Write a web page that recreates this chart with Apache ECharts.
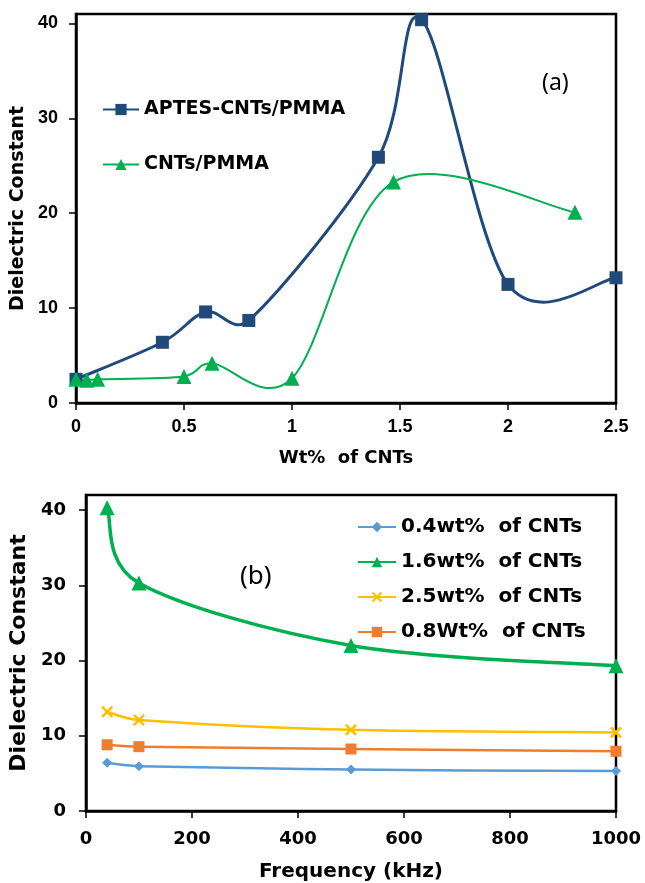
<!DOCTYPE html>
<html>
<head>
<meta charset="utf-8">
<script src="https://cdn.jsdelivr.net/npm/echarts@6/dist/echarts.min.js"></script>
<style>
html, body { margin: 0; padding: 0; background: #fff; }
#main { width: 645px; height: 883px; }
</style>
</head>
<body>
<div id="main"></div>
<script>
// (a) dielectric constant vs wt% of CNTs
var wtAptes = [0, 0.4, 0.6, 0.8, 1.4, 1.6, 2.0, 2.5];
var dcAptes = [2.5, 6.4, 9.6, 8.7, 25.9, 40.4, 12.5, 13.2];
var wtCnt = [0, 0.05, 0.1, 0.5, 0.63, 1.0, 1.47, 2.31];
var dcCnt = [2.5, 2.4, 2.5, 2.8, 4.2, 2.6, 23.3, 20.1];
var wtTicks = [0, 0.5, 1, 1.5, 2, 2.5];
var dcTicks = [0, 10, 20, 30, 40];

// (b) dielectric constant vs frequency
var freq = [40, 100, 500, 1000];
var dc04 = [6.4, 5.95, 5.5, 5.3];
var dc16 = [40.3, 30.3, 22.0, 19.3];
var dc25 = [13.2, 12.1, 10.8, 10.45];
var dc08 = [8.8, 8.55, 8.24, 7.94];
var freqTicks = [0, 200, 400, 600, 800, 1000];

function pairs(xs, ys) {
	var out = [];
	for (var i = 0; i < xs.length; i++) out.push([xs[i], ys[i]]);
	return out;
}

// tangent handle, kept to half of the segment length
function handle(a, b, segLen) {
	var dx = (b[0] - a[0]) / 6, dy = (b[1] - a[1]) / 6;
	var len = Math.sqrt(dx * dx + dy * dy);
	var cap = segLen * 0.5;
	if (len > cap && len > 0) {
		dx = dx * cap / len;
		dy = dy * cap / len;
	}
	return [dx, dy];
}

// excel-like smoothed line through the data, positions from api.coord
function smoothCurve(gi, xs, ys, color, width) {
	return {
		type : 'custom',
		xAxisIndex : gi, yAxisIndex : gi,
		silent : true,
		clip : false,
		z : 1,
		encode : { x : 0, y : 1 },
		data : pairs(xs, ys),
		renderItem : function(params, api) {
			if (params.dataIndex !== 0) return;
			var pts = [];
			for (var i = 0; i < xs.length; i++) pts.push(api.coord([xs[i], ys[i]]));
			var kids = [];
			for (var i = 0; i < pts.length - 1; i++) {
				var p0 = pts[i - 1] || pts[i], p1 = pts[i], p2 = pts[i + 1], p3 = pts[i + 2] || pts[i + 1];
				var seg = Math.sqrt(Math.pow(p2[0] - p1[0], 2) + Math.pow(p2[1] - p1[1], 2));
				var h1 = handle(p0, p2, seg), h2 = handle(p1, p3, seg);
				kids.push({
					type : 'bezierCurve',
					shape : {
						x1 : p1[0], y1 : p1[1],
						cpx1 : p1[0] + h1[0], cpy1 : p1[1] + h1[1],
						cpx2 : p2[0] - h2[0], cpy2 : p2[1] - h2[1],
						x2 : p2[0], y2 : p2[1]
					},
					style : { stroke : color, lineWidth : width, fill : null }
				});
			}
			return { type : 'group', children : kids };
		}
	};
}

// markers + legend entry
function marks(gi, name, xs, ys, symbol, size, color, width) {
	return {
		name : name,
		type : 'line',
		xAxisIndex : gi, yAxisIndex : gi,
		clip : false,
		z : 3,
		symbol : symbol,
		symbolSize : size,
		color : color,
		itemStyle : { color : color, opacity : 1 },
		lineStyle : { width : width, color : color, opacity : 0 },
		data : pairs(xs, ys)
	};
}

var xCross = 'path://M0,1.5L1.5,0L5,3.5L8.5,0L10,1.5L6.5,5L10,8.5L8.5,10L5,6.5L1.5,10L0,8.5L3.5,5Z';
var bold = 'DejaVu Sans';

function axis(gridIndex, min, max, interval, ticks, name, nameGap, labelFont, labelMargin, nameSize) {
	return {
		type : 'value',
		gridIndex : gridIndex,
		min : min,
		max : max,
		interval : interval,
		name : name,
		nameLocation : 'middle',
		nameGap : nameGap,
		nameTextStyle : { fontFamily : bold, fontWeight : 'bold', fontSize : nameSize, color : '#000' },
		axisLine : { show : true, lineStyle : { color : '#000', width : 2.5 } },
		axisTick : { show : true, length : 7, lineStyle : { color : '#000', width : 1.5 }, customValues : ticks },
		axisLabel : { customValues : ticks, margin : labelMargin, color : '#000', fontWeight : 'bold',
			fontFamily : labelFont.family, fontSize : labelFont.size,
			formatter : function(v) { return String(v); } },
		splitLine : { show : false }
	};
}

var myChart = echarts.init(document.getElementById('main'));
var option = {
	backgroundColor : '#ffffff',
	animation : false,
	grid : [ {
		left : 76, right : 29, top : 14, height : 389,
		show : true, borderColor : '#000', borderWidth : 2.5
	}, {
		left : 82, right : 29, top : 495, height : 317,
		show : true, borderColor : '#000', borderWidth : 2.5
	} ],
	xAxis : [
		axis(0, 0, 2.5, 0.5, wtTicks, 'Wt%  of CNTs', 46, { family : 'Liberation Sans', size : 18 }, 15, 18),
		axis(1, 0, 1000, 200, freqTicks, 'Frequency (kHz)', 51, { family : bold, size : 18 }, 19, 20)
	],
	yAxis : [
		axis(0, 0, 41, 10, dcTicks, 'Dielectric Constant', 46, { family : 'Liberation Sans', size : 18 }, 18, 19),
		axis(1, 0, 42, 10, dcTicks, 'Dielectric Constant', 52, { family : bold, size : 18 }, 20, 22)
	],
	legend : [ {
		orient : 'vertical',
		left : 97,
		top : 95,
		itemWidth : 36,
		itemHeight : 14,
		itemGap : 36,
		lineStyle : { opacity : 1 },
		textStyle : { fontFamily : bold, fontWeight : 'bold', fontSize : 19, color : '#000' },
		data : [ 'APTES-CNTs/PMMA', 'CNTs/PMMA' ]
	}, {
		orient : 'vertical',
		left : 352,
		top : 512,
		itemWidth : 38,
		itemHeight : 13,
		itemGap : 15,
		lineStyle : { opacity : 1 },
		textStyle : { fontFamily : bold, fontWeight : 'bold', fontSize : 20, color : '#000' },
		data : [ '0.4wt%  of CNTs', '1.6wt%  of CNTs', '2.5wt%  of CNTs', '0.8Wt%  of CNTs' ]
	} ],
	graphic : [ {
		type : 'text', left : 542, top : 72,
		style : { text : '(a)', fontFamily : 'Noto Sans', fontSize : 23, fill : '#000' }
	}, {
		type : 'text', left : 240, top : 564,
		style : { text : '(b)', fontFamily : 'Noto Sans', fontSize : 26, fill : '#000' }
	} ],
	series : [
		smoothCurve(0, wtAptes, dcAptes, '#1F4A7A', 3),
		smoothCurve(0, wtCnt, dcCnt, '#00B050', 2),
		smoothCurve(1, freq, dc04, '#5B9BD5', 2.5),
		smoothCurve(1, freq, dc16, '#00B050', 3.5),
		smoothCurve(1, freq, dc25, '#FFC000', 2.5),
		smoothCurve(1, freq, dc08, '#ED7D31', 2.5),
		marks(0, 'APTES-CNTs/PMMA', wtAptes, dcAptes, 'rect', 13, '#1F4A7A', 3),
		marks(0, 'CNTs/PMMA', wtCnt, dcCnt, 'triangle', 15, '#00B050', 2),
		marks(1, '0.4wt%  of CNTs', freq, dc04, 'diamond', 10, '#5B9BD5', 2.5),
		marks(1, '1.6wt%  of CNTs', freq, dc16, 'triangle', 15, '#00B050', 3.5),
		marks(1, '2.5wt%  of CNTs', freq, dc25, xCross, 12, '#FFC000', 2.5),
		marks(1, '0.8Wt%  of CNTs', freq, dc08, 'rect', 11, '#ED7D31', 2.5)
	]
};
myChart.setOption(option);
</script>
</body>
</html>
